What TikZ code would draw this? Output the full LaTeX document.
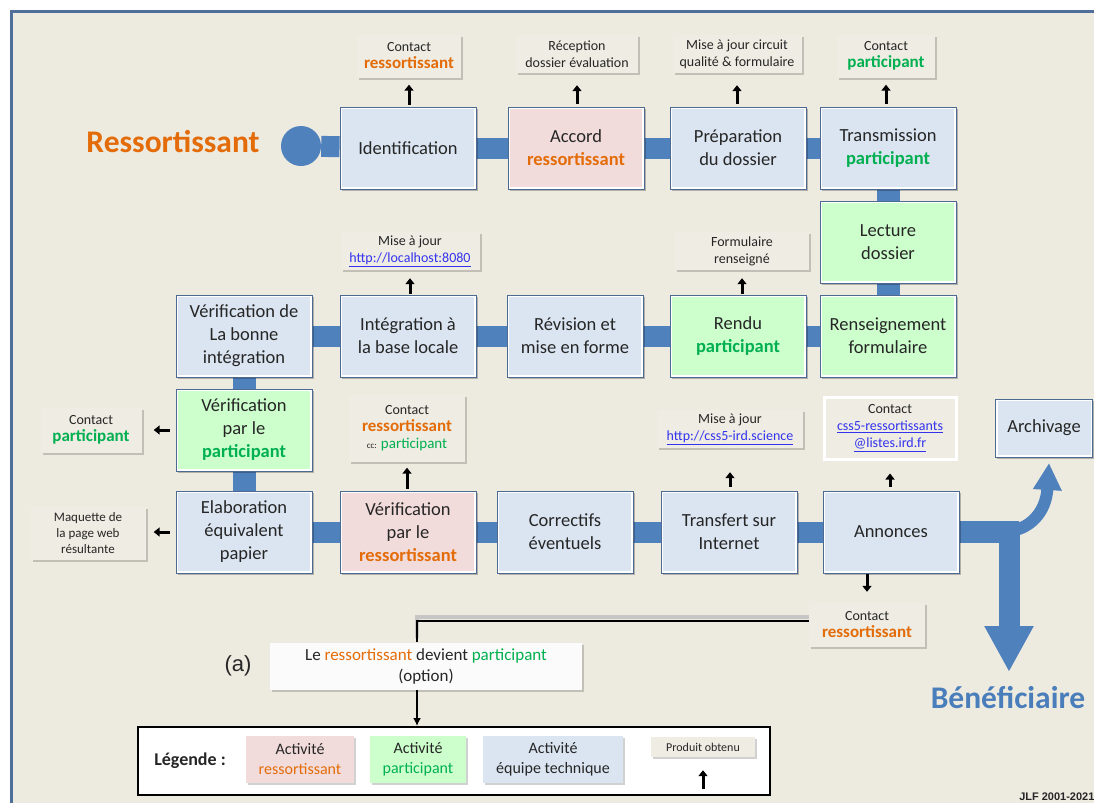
\documentclass[tikz,border=0pt]{standalone}
\usepackage{fontspec}
\setmainfont{Carlito}
\newfontfamily\arialf{Liberation Sans}
\usetikzlibrary{arrows.meta,shadows}
\definecolor{bgc}{HTML}{EDEAE0}
\definecolor{framec}{HTML}{4F6E9A}
\definecolor{boxline}{HTML}{4D6A92}
\definecolor{techf}{HTML}{DBE5F1}
\definecolor{ressf}{HTML}{F2DCDB}
\definecolor{partf}{HTML}{CCFFCC}
\definecolor{barc}{HTML}{4F81BD}
\definecolor{orng}{HTML}{E36C09}
\definecolor{grn}{HTML}{00B050}
\definecolor{txt}{HTML}{262626}
\definecolor{prodf}{HTML}{EEECE3}
\definecolor{linkc}{HTML}{3333EE}
\definecolor{benef}{HTML}{4A7EBB}
\newcommand{\orTxt}[1]{\textcolor{orng}{#1}}
\newcommand{\grTxt}[1]{\textcolor{grn}{#1}}
\newcommand{\lnk}[1]{\textcolor{linkc}{\underline{#1}}}
\pgfdeclarelayer{back}
\pgfdeclarelayer{bars}
\pgfsetlayers{back,bars,main}
\tikzset{
  act/.style={rectangle, draw=boxline, line width=0.9pt, fill=white,
    minimum width=136pt, minimum height=82pt, inner sep=2pt, align=center,
    text=txt, font=\fontsize{18.5}{23}\selectfont,
    drop shadow={shadow xshift=1.5pt, shadow yshift=-1.5pt, opacity=0.25, fill=black},
    path picture={\fill[#1] ([shift={(2pt,2pt)}]path picture bounding box.south west)
      rectangle ([shift={(-2pt,-2pt)}]path picture bounding box.north east);}},
  tech/.style={act=techf},
  ress/.style={act=ressf},
  part/.style={act=partf},
  prod/.style={rectangle, fill=prodf, inner sep=2pt, align=center, text=txt,
    font=\fontsize{14}{17}\selectfont,
    drop shadow={shadow xshift=2pt, shadow yshift=-2pt, opacity=0.18, fill=black}},
  bar/.style={draw=barc, line width=21pt},
  outarrow/.style={draw=black, line width=3pt, -{Triangle[width=9pt,length=6pt]}},
  bigword/.style={font=\fontsize{31.5}{33}\selectfont\bfseries}
}
\begin{document}
\begin{tikzpicture}[x=1pt,y=-1pt]
\useasboundingbox (0,0) rectangle (1094,803);
\begin{pgfonlayer}{back}
  \fill[white] (0,0) rectangle (1094,803);
  \fill[bgc] (11,11) rectangle (1094,803);
  \draw[framec, line width=3pt] (11,803) -- (11,11) -- (1094,11);
\end{pgfonlayer}

% titles
\node[bigword, text=orng] (resLabel) at (173,142) {Ressortissant};
\node[bigword, text=benef] (benLabel) at (1008,698) {Bénéficiaire};

% start disc
\node[circle, fill=barc, minimum size=40pt, inner sep=0pt] (start) at (301,146) {};

% activities
\node[tech] (ident) at (408,148) {Identification};
\node[ress] (accord) at (576,148) {Accord\\\textbf{\orTxt{ressortissant}}};
\node[tech] (prep) at (738,148) {Préparation\\du dossier};
\node[tech] (trans) at (888,148) {Transmission\\\textbf{\grTxt{participant}}};
\node[part] (lecture) at (888,242) {Lecture\\dossier};
\node[part] (renseign) at (888,336) {Renseignement\\formulaire};
\node[part] (rendu) at (738,336) {Rendu\\\textbf{\grTxt{participant}}};
\node[tech] (revision) at (575,336) {Révision et\\mise en forme};
\node[tech] (integ) at (408,336) {Intégration à\\la base locale};
\node[tech] (verifB) at (244,336) {Vérification de\\La bonne\\intégration};
\node[part] (verifP) at (244,430) {Vérification\\par le\\\textbf{\grTxt{participant}}};
\node[tech] (elab) at (244,532) {Elaboration\\équivalent\\papier};
\node[ress] (verifR) at (408,532) {Vérification\\par le\\\textbf{\orTxt{ressortissant}}};
\node[tech] (correct) at (565,532) {Correctifs\\éventuels};
\node[tech] (transf) at (729,532) {Transfert sur\\Internet};
\node[tech] (annonces) at (891,532) {Annonces};
\node[tech, minimum width=97pt, minimum height=58pt] (archiv) at (1044,428) {Archivage};

% products
\node[prod, minimum width=104pt, minimum height=43pt] (o1) at (409,56)
  {Contact\\{\fontsize{17}{17}\selectfont\bfseries\orTxt{ressortissant}}};
\node[prod, minimum width=122pt, minimum height=38pt] (o2) at (577,54)
  {Réception\\dossier évaluation};
\node[prod, minimum width=129pt, minimum height=38pt] (o3) at (737,54)
  {Mise à jour circuit\\qualité \& formulaire};
\node[prod, minimum width=98pt, minimum height=43pt] (o4) at (886,56)
  {Contact\\{\fontsize{17}{17}\selectfont\bfseries\grTxt{participant}}};
\node[prod, minimum width=139pt, minimum height=38pt] (o5) at (410,251)
  {Mise à jour\\\lnk{http://localhost:8080}};
\node[prod, minimum width=134pt, minimum height=38pt] (o6) at (742,251)
  {Formulaire\\renseigné};
\node[prod, minimum width=101pt, minimum height=45pt] (o7) at (91,430)
  {Contact\\{\fontsize{17}{17}\selectfont\bfseries\grTxt{participant}}};
\node[prod, minimum width=116pt, minimum height=67pt] (o8) at (407,428)
  {Contact\\{\fontsize{17}{17}\selectfont\bfseries\orTxt{ressortissant}}\\{\fontsize{9}{10}\selectfont cc:} {\fontsize{15}{15}\selectfont\grTxt{participant}}};
\node[prod, minimum width=115pt, minimum height=53pt, font=\fontsize{13}{16}\selectfont] (o9) at (88,533)
  {Maquette de\\la page web\\résultante};
\node[prod, minimum width=146pt, minimum height=38pt] (o10) at (730,429)
  {Mise à jour\\\lnk{http://css5-ird.science}};
\node[prod, draw=white, line width=3pt, minimum width=132pt, minimum height=62pt] (o11) at (890,428)
  {Contact\\\lnk{css5-ressortissants}\\\lnk{@listes.ird.fr}};
\node[prod, minimum width=116pt, minimum height=44pt] (o12) at (867,625)
  {Contact\\{\fontsize{17}{17}\selectfont\bfseries\orTxt{ressortissant}}};

% option box
\node[font=\arialf\fontsize{22}{24}\selectfont, text=txt] (alab) at (238,666) {(a)};
\node[prod, fill=white!97!gray, minimum width=312pt, minimum height=47pt, font=\fontsize{17}{21}\selectfont] (devient) at (426,666)
  {Le \orTxt{ressortissant} devient \grTxt{participant}\\(option)};

% legend
\node[draw=black, line width=2pt, fill=white, minimum width=632pt, minimum height=68pt] (legend) at (454,761) {};
\node[font=\fontsize{18}{20}\selectfont\bfseries, text=txt] (legTitle) at (190,761) {Légende :};
\node[prod, fill=ressf, minimum width=108pt, minimum height=47pt, font=\fontsize{16}{20}\selectfont] (lr) at (300,759)
  {Activité\\\orTxt{ressortissant}};
\node[prod, fill=partf, minimum width=96pt, minimum height=47pt, font=\fontsize{16}{20}\selectfont] (lp) at (418,759)
  {Activité\\\grTxt{participant}};
\node[prod, fill=techf, minimum width=140pt, minimum height=47pt, font=\fontsize{16}{20}\selectfont] (lt) at (553,759)
  {Activité\\équipe technique};
\node[prod, minimum width=104pt, minimum height=20pt, font=\fontsize{12}{14}\selectfont] (lprod) at (703,747) {Produit obtenu};
\coordinate (lpfoot) at (703,789);
\node[font=\arialf\bfseries\fontsize{11}{12}\selectfont, text=txt, anchor=east] (jlf) at (1098,797) {JLF 2001-2021};

% blue bars
\begin{pgfonlayer}{bars}
  \draw[bar] (start) -- (ident);
  \draw[bar] (ident) -- (accord);
  \draw[bar] (accord) -- (prep);
  \draw[bar] (prep) -- (trans);
  \draw[bar, line width=23pt] (trans) -- (lecture);
  \draw[bar, line width=23pt] (lecture) -- (renseign);
  \draw[bar] (renseign) -- (rendu);
  \draw[bar] (rendu) -- (revision);
  \draw[bar] (revision) -- (integ);
  \draw[bar] (integ) -- (verifB);
  \draw[bar, line width=23pt] (verifB) -- (verifP);
  \draw[bar, line width=23pt] (verifP) -- (elab);
  \draw[bar] (elab) -- (verifR);
  \draw[bar] (verifR) -- (correct);
  \draw[bar] (correct) -- (transf);
  \draw[bar] (transf) -- (annonces);
  \coordinate (joint) at (1019,532);
  \coordinate (downTop) at (1009,522);
  \coordinate (downTip) at (1009,672);
  \coordinate (curveStart) at (1003,532);
  \coordinate (upTip) at (1049,463);
  \draw[bar, line width=22pt] (annonces) -- (joint);
  \draw[bar, line width=21pt, -{Triangle[width=46pt,length=46pt]}] (downTop) -- (downTip);
  \draw[draw=barc, line width=12pt, -{Triangle[width=27pt,length=27pt]}]
    (curveStart) .. controls (1030,531) and (1046,512) .. (upTip);
\end{pgfonlayer}

% product arrows
\draw[outarrow, shorten <=2pt, shorten >=7pt] (o1.south |- ident.north) -- (o1.south);
\draw[outarrow, shorten <=3pt, shorten >=12pt] (o2.south |- accord.north) -- (o2.south);
\draw[outarrow, shorten <=3pt, shorten >=12pt] (o3.south |- prep.north) -- (o3.south);
\draw[outarrow, shorten <=3pt, shorten >=7pt] (o4.south |- trans.north) -- (o4.south);
\draw[outarrow, shorten <=1pt, shorten >=8pt] (o5.south |- integ.north) -- (o5.south);
\draw[outarrow, shorten <=1pt, shorten >=8pt] (o6.south |- rendu.north) -- (o6.south);
\draw[outarrow, shorten <=6pt, shorten >=12pt] (verifP.west |- o7.east) -- (o7.east);
\draw[outarrow, shorten <=2pt, shorten >=6pt] (o8.south |- verifR.north) -- (o8.south);
\draw[outarrow, shorten <=6pt, shorten >=8pt] (elab.west) -- (elab.west -| o9.east);
\draw[outarrow, shorten <=4pt, shorten >=24pt] (o10.south |- transf.north) -- (o10.south);
\draw[outarrow, shorten <=4pt, shorten >=13pt] (o11.south |- annonces.north) -- (o11.south);
\draw[outarrow, shorten <=1pt, shorten >=11pt] (o12.north |- annonces.south) -- (o12.north);
\draw[outarrow, shorten >=13pt] (lpfoot) -- (lprod.south);

% option line
\draw[line width=2pt, preaction={draw=gray!45, line width=4pt, transform canvas={yshift=4pt}}]
  ([yshift=4pt]o12.west) -| ([xshift=-9pt]devient.north);
\draw[line width=1.6pt, -{Latex[length=8pt,width=8pt]}]
  ([xshift=-9pt]devient.south) -- ([xshift=-9pt]devient.south |- legend.north);
\end{tikzpicture}
\end{document}
